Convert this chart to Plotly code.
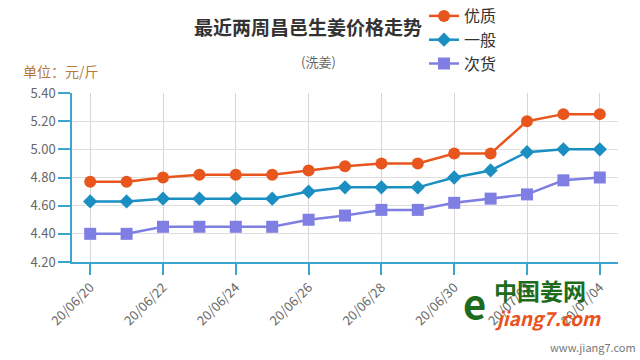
import plotly.graph_objects as go

dates = ["20/06/20", "20/06/21", "20/06/22", "20/06/23", "20/06/24", "20/06/25",
         "20/06/26", "20/06/27", "20/06/28", "20/06/29", "20/06/30", "20/07/01",
         "20/07/02", "20/07/03", "20/07/04"]
premium = [4.77, 4.77, 4.80, 4.82, 4.82, 4.82, 4.85, 4.88, 4.90, 4.90, 4.97, 4.97, 5.20, 5.25, 5.25]
ordinary = [4.63, 4.63, 4.65, 4.65, 4.65, 4.65, 4.70, 4.73, 4.73, 4.73, 4.80, 4.85, 4.98, 5.00, 5.00]
inferior = [4.40, 4.40, 4.45, 4.45, 4.45, 4.45, 4.50, 4.53, 4.57, 4.57, 4.62, 4.65, 4.68, 4.78, 4.80]
series_names = ["优质", "一般", "次货"]
tick_dates = dates[::2]
y_ticks = [4.20, 4.40, 4.60, 4.80, 5.00, 5.20, 5.40]

FONT = "Noto Sans CJK SC"
AXIS = "#3aa6cf"
W, H = 640, 360
L, R, T, B = 72, 618, 93, 262


def px(x):
    return (x - L) / (R - L)


def py(y):
    return (B - y) / (B - T)


fig = go.Figure()
fig.add_trace(go.Scatter(x=dates, y=premium, name=series_names[0], mode="lines+markers",
                         line=dict(color="#e8561e", width=2.5),
                         marker=dict(symbol="circle", size=12, color="#e8561e")))
fig.add_trace(go.Scatter(x=dates, y=ordinary, name=series_names[1], mode="lines+markers",
                         line=dict(color="#1b8fc2", width=2.5),
                         marker=dict(symbol="diamond", size=11, color="#1b8fc2")))
fig.add_trace(go.Scatter(x=dates, y=inferior, name=series_names[2], mode="lines+markers",
                         line=dict(color="#7f7fe3", width=2.5),
                         marker=dict(symbol="square", size=12, color="#7f7fe3")))

fig.update_layout(
    width=W, height=H,
    margin=dict(l=L, r=W - R, t=T, b=H - B, autoexpand=False),
    paper_bgcolor="white", plot_bgcolor="white",
    font=dict(family=FONT, color="#555"),
    legend=dict(x=px(424), xanchor="left", y=py(-1), yanchor="top",
                font=dict(size=16, color="#333", family=FONT),
                itemwidth=30, tracegroupgap=0, bgcolor="rgba(0,0,0,0)"),
    showlegend=True,
)
fig.update_xaxes(type="category", range=[-0.5, 14.5], automargin=False,
                 tickvals=tick_dates, ticktext=tick_dates, tickangle=-45,
                 showline=True, linecolor=AXIS, linewidth=1.5,
                 ticks="outside", ticklen=11, tickcolor=AXIS, tickwidth=1.5,
                 showgrid=True, gridcolor="#d6d6d6", gridwidth=1,
                 tickfont=dict(size=13, color="#666", family=FONT))
fig.update_yaxes(range=[4.2, 5.4], tickvals=y_ticks, tickformat=".2f", automargin=False,
                 showline=True, linecolor=AXIS, linewidth=1.5,
                 ticks="outside", ticklen=12, tickcolor=AXIS, tickwidth=1.5,
                 showgrid=True, gridcolor="#dedede", gridwidth=1, zeroline=False,
                 tickfont=dict(size=13, color="#666", family=FONT))

ann = [
    dict(text="<b>最近两周昌邑生姜价格走势</b>", x=308, y=26, font=dict(size=19, color="#333")),
    dict(text="(洗姜)", x=318, y=62, font=dict(size=13, color="#666")),
    dict(text="单位：元/斤", x=61, y=71, font=dict(size=14, color="#b8783c")),
    dict(text="<b>中国姜网</b>", x=540, y=290, font=dict(size=23, color="#1d6b1d")),
    dict(text="<b><i>jiang7.com</i></b>", x=548, y=317, font=dict(size=19, color="#e9521c")),
    dict(text="<b>e</b>", x=474, y=302, font=dict(size=40, color="#1d6b1d")),
    dict(text="www.jiang7.com", x=593, y=347, font=dict(size=11, color="#777")),
]
for a in ann:
    fig.add_annotation(text=a["text"], x=px(a["x"]), y=py(a["y"]),
                       xref="paper", yref="paper", showarrow=False,
                       xanchor="center", yanchor="middle", font=dict(family=FONT, **a["font"]))

fig.write_html("out.html", config={"displayModeBar": False},
               post_script="document.body.style.margin='0';")
